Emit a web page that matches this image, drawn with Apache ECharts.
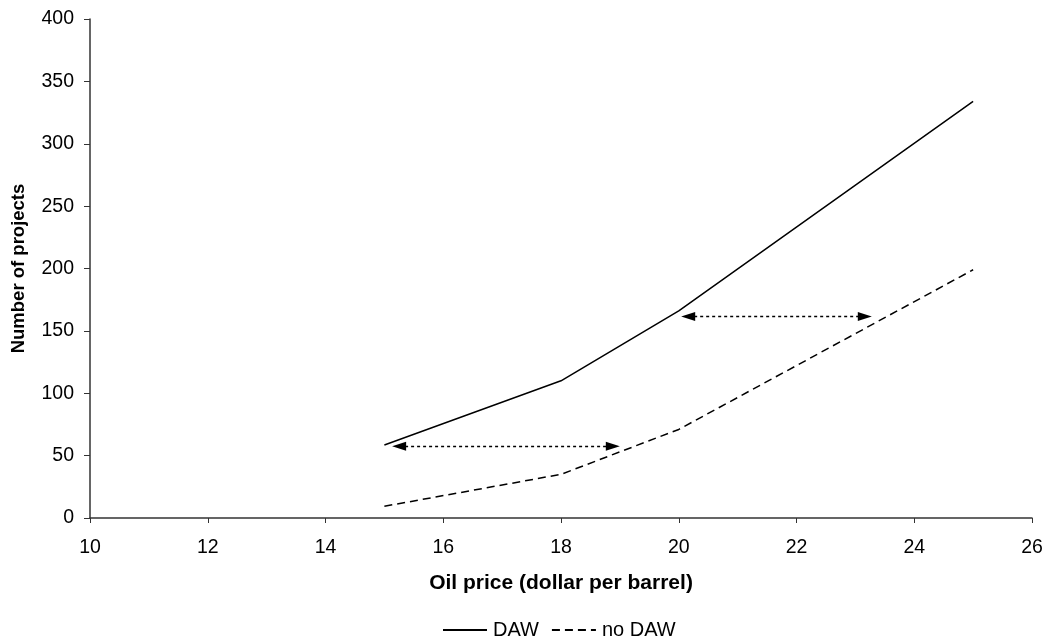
<!DOCTYPE html>
<html><head><meta charset="utf-8">
<script src="https://cdn.jsdelivr.net/npm/echarts@6/dist/echarts.min.js"></script>
<style>html,body{margin:0;padding:0;background:#fff}#c{width:1046px;height:641px}</style>
</head><body><div id="c"></div>
<script>
const oilPrice = [15, 18, 20, 25];
const dawValues = [58.5, 110, 166, 334];
const noDawValues = [9.4, 35, 71, 199];
// arrow head centres (tips sit about half a head further out)
const arrow1 = [[15.25, 57.5], [18.88, 57.5]];
const arrow2 = [[20.16, 161.5], [23.16, 161.5]];
const xTicks = [10, 12, 14, 16, 18, 20, 22, 24, 26];
const yTicks = [0, 50, 100, 150, 200, 250, 300, 350, 400];

const font = '"Liberation Sans", Arial, sans-serif';
const chart = echarts.init(document.getElementById('c'));
const arrowStyle = { color: '#000', type: [3, 3], width: 1.3 };
chart.setOption({
  animation: false,
  grid: { left: 90, right: 14, top: 19, bottom: 123, containLabel: false },
  legend: {
    top: 615, left: 437, itemWidth: 44, itemHeight: 10, itemGap: 12,
    itemStyle: { opacity: 0 },
    textStyle: { fontFamily: font, fontSize: 20, color: '#000', padding: [0, 0, 0, 1] },
    data: ['DAW', 'no DAW']
  },
  xAxis: {
    type: 'value', min: xTicks[0], max: xTicks[xTicks.length - 1], interval: 2,
    name: 'Oil price (dollar per barrel)', nameLocation: 'middle', nameGap: 55,
    nameTextStyle: { fontFamily: font, fontSize: 21, fontWeight: 'bold', color: '#000' },
    axisLine: { lineStyle: { color: '#333', width: 1.5 } },
    axisTick: { length: 5, inside: false, lineStyle: { color: '#333' } },
    axisLabel: { fontFamily: font, fontSize: 19.5, color: '#000', margin: 20 },
    splitLine: { show: false }
  },
  yAxis: {
    type: 'value', min: yTicks[0], max: yTicks[yTicks.length - 1], interval: 50,
    name: 'Number of projects', nameLocation: 'middle', nameGap: 62,
    nameTextStyle: { fontFamily: font, fontSize: 18.5, fontWeight: 'bold', color: '#000' },
    axisLine: { show: true, lineStyle: { color: '#333', width: 1.5 } },
    axisTick: { show: true, length: 6, lineStyle: { color: '#333' } },
    axisLabel: { fontFamily: font, fontSize: 19.5, color: '#000', margin: 16 },
    splitLine: { show: false }
  },
  series: [
    {
      name: 'DAW', type: 'line', symbol: 'none',
      data: oilPrice.map((x, i) => [x, dawValues[i]]),
      lineStyle: { color: '#000', width: 1.5, type: 'solid' },
      itemStyle: { color: '#000' },
      markLine: {
        silent: true, symbol: ['triangle', 'triangle'], symbolSize: [9, 14],
        label: { show: false }, lineStyle: arrowStyle,
        data: [
          [{ coord: arrow1[0] }, { coord: arrow1[1] }],
          [{ coord: arrow2[0] }, { coord: arrow2[1] }]
        ]
      }
    },
    {
      name: 'no DAW', type: 'line', symbol: 'none',
      data: oilPrice.map((x, i) => [x, noDawValues[i]]),
      lineStyle: { color: '#000', width: 1.5, type: [8, 5] },
      itemStyle: { color: '#000' }
    }
  ]
});
</script></body></html>
